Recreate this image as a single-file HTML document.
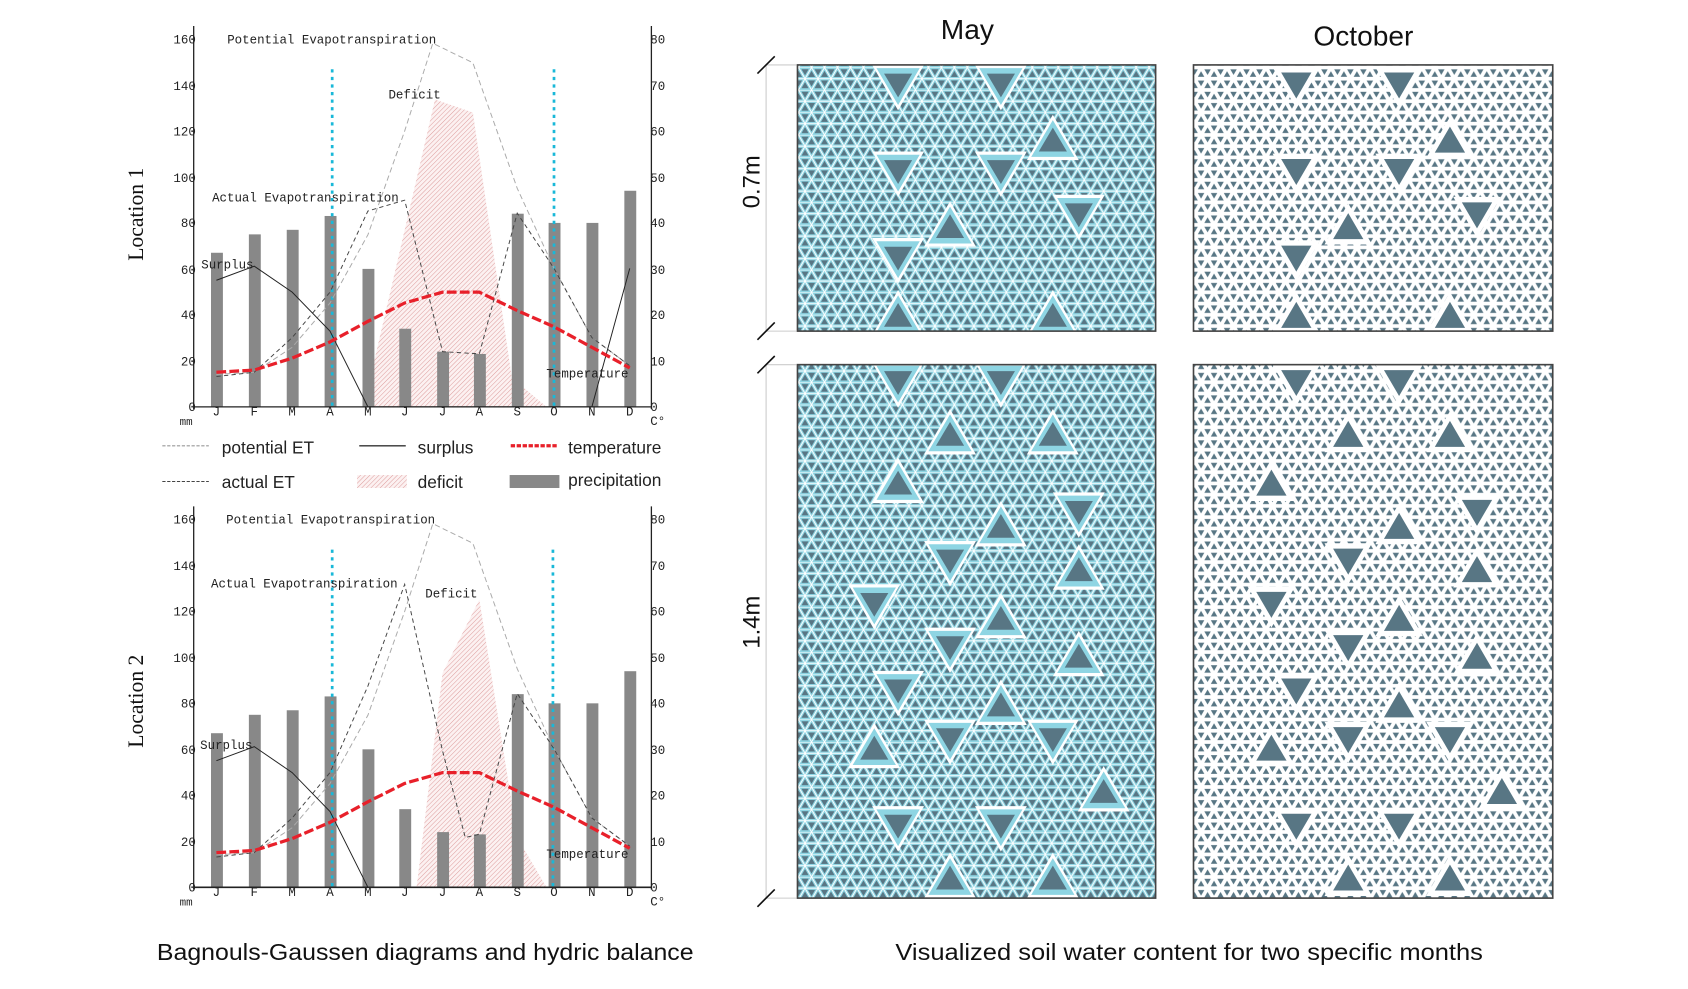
<!DOCTYPE html>
<html><head><meta charset="utf-8"><style>html,body{margin:0;padding:0;background:#fff}svg{display:block}</style></head>
<body>
<svg width="1688" height="989" viewBox="0 0 1560 914" preserveAspectRatio="none" xmlns="http://www.w3.org/2000/svg">
<defs>
<pattern id="hatch" width="3" height="3" patternUnits="userSpaceOnUse" patternTransform="rotate(45)">
<rect width="3" height="3" fill="#fcf1f1"/><line x1="0" y1="0" x2="0" y2="3" stroke="#dc9a9a" stroke-width="0.9"/></pattern>
<pattern id="pmay" width="12" height="20.78" patternUnits="userSpaceOnUse">
<rect width="12" height="20.78" fill="#8ed5e3"/>
<g fill="none" stroke="#fff" stroke-width="0.9">
<line x1="0" y1="0" x2="12" y2="0"/><line x1="0" y1="10.39" x2="12" y2="10.39"/>
<line x1="0" y1="10.39" x2="6" y2="0"/><line x1="6" y1="0" x2="12" y2="10.39"/>
<line x1="0" y1="10.39" x2="6" y2="20.78"/><line x1="6" y1="20.78" x2="12" y2="10.39"/>
</g>
<g fill="#587684">
<polygon points="2.7,8.83 9.3,8.83 6,3.12"/><polygon points="8.7,1.56 15.3,1.56 12,7.27"/><polygon points="-3.3,1.56 3.3,1.56 0,7.27"/>
<polygon points="-3.3,19.22 3.3,19.22 0,13.51"/><polygon points="8.7,19.22 15.3,19.22 12,13.51"/><polygon points="2.7,11.95 9.3,11.95 6,17.66"/>
</g></pattern>
<pattern id="poct" width="12" height="20.78" patternUnits="userSpaceOnUse">
<rect width="12" height="20.78" fill="#fff"/>
<g fill="#587684">
<polygon points="3,8.66 9,8.66 6,3.46"/><polygon points="9,1.73 15,1.73 12,6.93"/><polygon points="-3,1.73 3,1.73 0,6.93"/>
<polygon points="-3,19.05 3,19.05 0,13.85"/><polygon points="9,19.05 15,19.05 12,13.85"/><polygon points="3,12.12 9,12.12 6,17.32"/>
</g></pattern>
<g id="dn"><polygon points="-24,-20 24,-20 0,22" fill="#fff"/><polygon points="-20,-17 20,-17 0,17" fill="#8ed5e3"/><polygon points="-13,-12 13,-12 0,10" fill="#587684"/></g>
<g id="up"><polygon points="-24,20 24,20 0,-22" fill="#fff"/><polygon points="-20,17 20,17 0,-17" fill="#8ed5e3"/><polygon points="-13,12 13,12 0,-10" fill="#587684"/></g>
<g id="dn2"><polygon points="-22,-18 22,-18 0,20" fill="#fff"/><polygon points="-14,-13 14,-13 0,11" fill="#587684"/></g>
<g id="up2"><polygon points="-22,18 22,18 0,-20" fill="#fff"/><polygon points="-14,13 14,13 0,-11" fill="#587684"/></g>
</defs>

<g font-family="Liberation Mono, monospace" font-size="11.5" fill="#222">
<polygon points="336,376 402,92 437,104 473,349 505,376" fill="url(#hatch)"/>
<g fill="#888">
<rect x="195" y="233.6" width="11" height="142.4"/><rect x="230" y="216.6" width="11" height="159.4"/><rect x="265" y="212.4" width="11" height="163.6"/><rect x="300" y="199.6" width="11" height="176.4"/><rect x="335" y="248.5" width="11" height="127.5"/><rect x="369" y="303.8" width="11" height="72.2"/><rect x="404" y="325" width="11" height="51"/><rect x="438" y="327.1" width="11" height="48.9"/><rect x="473" y="197.5" width="11" height="178.5"/><rect x="507" y="206" width="11" height="170"/><rect x="542" y="206" width="11" height="170"/><rect x="577" y="176.3" width="11" height="199.7"/>
</g>
<line x1="307" y1="64" x2="307" y2="376" stroke="#19b8d8" stroke-width="2.5" stroke-dasharray="3,4"/>
<line x1="512" y1="64" x2="512" y2="376" stroke="#19b8d8" stroke-width="2.5" stroke-dasharray="3,4"/>
<polyline points="200,346 235,344 270,321 305,280 340,217 374,121 400,40 437,58 478,174 512,248 547,312 582,338" fill="none" stroke="#aaa" stroke-width="0.9" stroke-dasharray="5,3"/>
<polyline points="200,348 235,344 270,312 305,270 340,195 374,185 409,325 443,327 478,197 512,248 547,312 582,338" fill="none" stroke="#444" stroke-width="0.9" stroke-dasharray="4,3"/>
<polyline points="200,259 235,246 270,270 305,306 340,376 547,376 582,248" fill="none" stroke="#222" stroke-width="0.9"/>
<polyline points="200,344 235,342 270,331 305,316 340,297 374,280 409,270 443,270 478,287 512,302 547,321 582,340" fill="none" stroke="#e8202a" stroke-width="3" stroke-dasharray="9,3"/>
<line x1="179" y1="24" x2="179" y2="378" stroke="#222" stroke-width="1.2"/>
<line x1="602" y1="24" x2="602" y2="378" stroke="#222" stroke-width="1.2"/>
<line x1="179" y1="376" x2="602" y2="376" stroke="#222" stroke-width="1.2"/>
<g text-anchor="end"><text x="181" y="40">160</text><text x="181" y="83">140</text><text x="181" y="125">120</text><text x="181" y="168">100</text><text x="181" y="210">80</text><text x="181" y="253">60</text><text x="181" y="295">40</text><text x="181" y="338">20</text><text x="181" y="380">0</text></g>
<g><text x="601" y="40">80</text><text x="601" y="83">70</text><text x="601" y="125">60</text><text x="601" y="168">50</text><text x="601" y="210">40</text><text x="601" y="253">30</text><text x="601" y="295">20</text><text x="601" y="338">10</text><text x="601" y="380">0</text></g>
<g text-anchor="middle"><text x="200" y="384">J</text><text x="235" y="384">F</text><text x="270" y="384">M</text><text x="305" y="384">A</text><text x="340" y="384">M</text><text x="374" y="384">J</text><text x="409" y="384">J</text><text x="443" y="384">A</text><text x="478" y="384">S</text><text x="512" y="384">O</text><text x="547" y="384">N</text><text x="582" y="384">D</text></g>
<text x="166" y="393" font-size="10">mm</text><text x="601" y="393">C°</text>
<text x="210" y="40">Potential Evapotranspiration</text>
<text x="359" y="91">Deficit</text>
<text x="196" y="186">Actual Evapotranspiration</text>
<text x="186" y="248">Surplus</text>
<text x="505" y="349">Temperature</text>
</g>

<g font-family="Liberation Mono, monospace" font-size="11.5" fill="#222" transform="translate(0,444)">
<polygon points="385,376 409,178 443,110 478,330 505,376" fill="url(#hatch)"/>
<g fill="#888">
<rect x="195" y="233.6" width="11" height="142.4"/><rect x="230" y="216.6" width="11" height="159.4"/><rect x="265" y="212.4" width="11" height="163.6"/><rect x="300" y="199.6" width="11" height="176.4"/><rect x="335" y="248.5" width="11" height="127.5"/><rect x="369" y="303.8" width="11" height="72.2"/><rect x="404" y="325" width="11" height="51"/><rect x="438" y="327.1" width="11" height="48.9"/><rect x="473" y="197.5" width="11" height="178.5"/><rect x="507" y="206" width="11" height="170"/><rect x="542" y="206" width="11" height="170"/><rect x="577" y="176.3" width="11" height="199.7"/>
</g>
<line x1="307" y1="64" x2="307" y2="376" stroke="#19b8d8" stroke-width="2.5" stroke-dasharray="3,4"/>
<line x1="511" y1="64" x2="511" y2="376" stroke="#19b8d8" stroke-width="2.5" stroke-dasharray="3,4"/>
<polyline points="200,346 235,344 270,321 305,280 340,217 374,121 400,40 437,58 478,174 512,248 547,312 582,338" fill="none" stroke="#aaa" stroke-width="0.9" stroke-dasharray="5,3"/>
<polyline points="200,348 235,344 270,312 305,270 340,190 374,96 409,250 430,330 443,327 478,197 512,248 547,312 582,338" fill="none" stroke="#444" stroke-width="0.9" stroke-dasharray="4,3"/>
<polyline points="200,259 235,246 270,270 305,306 340,376 547,376" fill="none" stroke="#222" stroke-width="0.9"/>
<polyline points="200,344 235,342 270,331 305,316 340,297 374,280 409,270 443,270 478,287 512,302 547,321 582,340" fill="none" stroke="#e8202a" stroke-width="3" stroke-dasharray="9,3"/>
<line x1="179" y1="24" x2="179" y2="378" stroke="#222" stroke-width="1.2"/>
<line x1="602" y1="24" x2="602" y2="378" stroke="#222" stroke-width="1.2"/>
<line x1="179" y1="376" x2="602" y2="376" stroke="#222" stroke-width="1.5"/>
<g text-anchor="end"><text x="181" y="40">160</text><text x="181" y="83">140</text><text x="181" y="125">120</text><text x="181" y="168">100</text><text x="181" y="210">80</text><text x="181" y="253">60</text><text x="181" y="295">40</text><text x="181" y="338">20</text><text x="181" y="380">0</text></g>
<g><text x="601" y="40">80</text><text x="601" y="83">70</text><text x="601" y="125">60</text><text x="601" y="168">50</text><text x="601" y="210">40</text><text x="601" y="253">30</text><text x="601" y="295">20</text><text x="601" y="338">10</text><text x="601" y="380">0</text></g>
<g text-anchor="middle"><text x="200" y="384">J</text><text x="235" y="384">F</text><text x="270" y="384">M</text><text x="305" y="384">A</text><text x="340" y="384">M</text><text x="374" y="384">J</text><text x="409" y="384">J</text><text x="443" y="384">A</text><text x="478" y="384">S</text><text x="512" y="384">O</text><text x="547" y="384">N</text><text x="582" y="384">D</text></g>
<text x="166" y="393" font-size="10">mm</text><text x="601" y="393">C°</text>
<text x="209" y="40">Potential Evapotranspiration</text>
<text x="393" y="108">Deficit</text>
<text x="195" y="99">Actual Evapotranspiration</text>
<text x="185" y="248">Surplus</text>
<text x="505" y="349">Temperature</text>
</g>

<text transform="translate(132,198) rotate(-90)" text-anchor="middle" font-family="Liberation Serif, serif" font-size="20" fill="#111">Location 1</text>
<text transform="translate(132,648) rotate(-90)" text-anchor="middle" font-family="Liberation Serif, serif" font-size="20" fill="#111">Location 2</text>

<g font-family="Liberation Sans, sans-serif" font-size="16" fill="#222">
<line x1="150" y1="412" x2="193" y2="412" stroke="#999" stroke-dasharray="3,1.5"/><text x="205" y="419">potential ET</text>
<line x1="332" y1="412" x2="375" y2="412" stroke="#333" stroke-width="1.2"/><text x="386" y="419">surplus</text>
<line x1="472" y1="412" x2="516" y2="412" stroke="#e8202a" stroke-width="3" stroke-dasharray="4,1.5"/><text x="525" y="419">temperature</text>
<line x1="150" y1="445" x2="193" y2="445" stroke="#444" stroke-dasharray="3,1.5"/><text x="205" y="451">actual ET</text>
<rect x="330" y="439" width="46" height="12" fill="url(#hatch)"/><text x="386" y="451">deficit</text>
<rect x="471" y="439" width="46" height="12" fill="#888"/><text x="525" y="449">precipitation</text>
</g>

<g font-family="Liberation Sans, sans-serif" font-size="21" fill="#111" text-anchor="middle">
<text x="393" y="887" textLength="496" lengthAdjust="spacingAndGlyphs">Bagnouls-Gaussen diagrams and hydric balance</text>
<text x="1099" y="887" textLength="543" lengthAdjust="spacingAndGlyphs">Visualized soil water content for two specific months</text>
<text x="894" y="36" font-size="26">May</text>
<text x="1260" y="42" font-size="26">October</text>
</g>
<text transform="translate(702,168) rotate(-90)" text-anchor="middle" font-family="Liberation Sans, sans-serif" font-size="22" fill="#111">0.7m</text>
<text transform="translate(702,575) rotate(-90)" text-anchor="middle" font-family="Liberation Sans, sans-serif" font-size="22" fill="#111">1.4m</text>
<g stroke="#ccc" stroke-width="1"><line x1="708" y1="60" x2="708" y2="306"/><line x1="708" y1="337" x2="708" y2="830"/>
<line x1="708" y1="60" x2="736" y2="60"/><line x1="708" y1="306" x2="736" y2="306"/><line x1="708" y1="337" x2="736" y2="337"/><line x1="708" y1="830" x2="736" y2="830"/></g>
<g stroke="#111" stroke-width="1.5"><line x1="700" y1="68" x2="716" y2="52"/><line x1="700" y1="314" x2="716" y2="298"/><line x1="700" y1="345" x2="716" y2="329"/><line x1="700" y1="838" x2="716" y2="822"/></g>

<svg x="737" y="60" width="331" height="246" viewBox="737 60 331 246">
<rect x="737" y="60" width="331" height="246" fill="url(#pmay)"/>
<use href="#dn" x="830" y="80"/><use href="#dn" x="925" y="80"/><use href="#dn" x="830" y="160"/><use href="#dn" x="925" y="160"/><use href="#dn" x="830" y="240"/><use href="#dn" x="997" y="200"/><use href="#up" x="973" y="128"/><use href="#up" x="878" y="208"/><use href="#up" x="830" y="290"/><use href="#up" x="973" y="290"/>
</svg>
<svg x="1103" y="60" width="332" height="246" viewBox="1103 60 332 246">
<rect x="1103" y="60" width="332" height="246" fill="url(#poct)"/>
<use href="#dn2" x="1198" y="80"/><use href="#dn2" x="1293" y="80"/><use href="#dn2" x="1198" y="160"/><use href="#dn2" x="1293" y="160"/><use href="#dn2" x="1198" y="240"/><use href="#dn2" x="1365" y="200"/><use href="#up2" x="1340" y="128"/><use href="#up2" x="1246" y="208"/><use href="#up2" x="1198" y="290"/><use href="#up2" x="1340" y="290"/>
</svg>
<svg x="737" y="337" width="331" height="493" viewBox="737 337 331 493">
<rect x="737" y="337" width="331" height="493" fill="url(#pmay)"/>
<use href="#dn" x="830" y="355"/><use href="#dn" x="925" y="355"/><use href="#up" x="878" y="400"/><use href="#up" x="973" y="400"/><use href="#up" x="830" y="445"/><use href="#dn" x="997" y="475"/><use href="#up" x="925" y="485"/><use href="#dn" x="878" y="520"/><use href="#up" x="997" y="525"/><use href="#dn" x="808" y="560"/><use href="#up" x="925" y="570"/><use href="#dn" x="878" y="600"/><use href="#up" x="997" y="605"/><use href="#dn" x="830" y="640"/><use href="#up" x="925" y="650"/><use href="#up" x="808" y="690"/><use href="#dn" x="878" y="685"/><use href="#dn" x="973" y="685"/><use href="#up" x="1020" y="730"/><use href="#dn" x="830" y="765"/><use href="#dn" x="925" y="765"/><use href="#up" x="878" y="810"/><use href="#up" x="973" y="810"/>
</svg>
<svg x="1103" y="337" width="332" height="493" viewBox="1103 337 332 493">
<rect x="1103" y="337" width="332" height="493" fill="url(#poct)"/>
<use href="#dn2" x="1198" y="355"/><use href="#dn2" x="1293" y="355"/><use href="#up2" x="1246" y="400"/><use href="#up2" x="1340" y="400"/><use href="#up2" x="1175" y="445"/><use href="#dn2" x="1365" y="475"/><use href="#up2" x="1293" y="485"/><use href="#dn2" x="1246" y="520"/><use href="#up2" x="1365" y="525"/><use href="#dn2" x="1175" y="560"/><use href="#up2" x="1293" y="570"/><use href="#dn2" x="1246" y="600"/><use href="#up2" x="1365" y="605"/><use href="#dn2" x="1198" y="640"/><use href="#up2" x="1293" y="650"/><use href="#up2" x="1175" y="690"/><use href="#dn2" x="1246" y="685"/><use href="#dn2" x="1340" y="685"/><use href="#up2" x="1388" y="730"/><use href="#dn2" x="1198" y="765"/><use href="#dn2" x="1293" y="765"/><use href="#up2" x="1246" y="810"/><use href="#up2" x="1340" y="810"/>
</svg>
<g fill="none" stroke="#444" stroke-width="1.5">
<rect x="737" y="60" width="331" height="246"/><rect x="1103" y="60" width="332" height="246"/>
<rect x="737" y="337" width="331" height="493"/><rect x="1103" y="337" width="332" height="493"/>
</g>
</svg>
</body></html>
